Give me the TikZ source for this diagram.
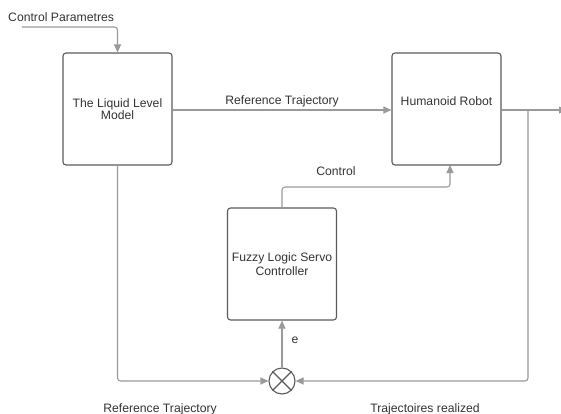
\documentclass[tikz,border=0pt]{standalone}
\usepackage{fontspec}
\setmainfont{Liberation Sans}
\usetikzlibrary{arrows.meta}
\definecolor{linegray}{HTML}{9A9A9A}
\definecolor{boxgray}{HTML}{5A5A5A}
\definecolor{textgray}{HTML}{333333}
\tikzset{
  block/.style={draw=boxgray, line width=1.1pt, rounded corners=3pt, minimum width=109pt, minimum height=112pt, align=center, text=textgray},
  lbl/.style={text=textgray, inner sep=0pt},
  wire/.style={draw=linegray, line width=1.1pt, rounded corners=3pt},
}
\begin{document}
\begin{tikzpicture}[x=1pt, y=-1pt, font=\fontsize{12.2}{13.5}\selectfont, >={Triangle[length=8pt,width=7pt]}]
\useasboundingbox (0,0) rectangle (561,414);

\node[block] (model) at (117.5,109) {The Liquid Level\\[-2pt]Model};
\node[block] (robot) at (446.5,109) {};
\node[lbl] (robottext) at (446.5,101) {Humanoid Robot};
\node[block] (fuzzy) at (282,264) {Fuzzy Logic Servo\\Controller};
\node[draw=boxgray, line width=1.1pt, circle, minimum size=26pt, inner sep=0pt] (sum) at (282,381) {};
\draw[boxgray, line width=1.1pt] (sum.north west) -- (sum.south east);
\draw[boxgray, line width=1.1pt] (sum.north east) -- (sum.south west);

\coordinate (start) at (22,27);
\coordinate (out) at (567,110);
\coordinate (branch) at (528,110);

\node[lbl, anchor=west] (params) at (8,17) {Control Parametres};
\draw[wire, ->, linegray] (start) -| (model.north);

\draw[wire, ->, linegray] (model.east |- 0,110) -- (robot.west |- 0,110);
\node[lbl] (reftop) at (282,101) {Reference Trajectory};

\draw[wire, ->, linegray] (robot.east |- 0,110) -- (out);
\draw[wire, ->, linegray] (branch) |- (sum.east);
\node[lbl] (realized) at (425,409) {Trajectoires realized};

\draw[wire, ->, linegray] (fuzzy.north) |- (366,187) -| (450,165);
\node[lbl] (control) at (336,171) {Control};

\draw[wire, ->, linegray] (sum.north) -- (fuzzy.south);
\node[lbl] (err) at (295,340) {e};

\draw[wire, ->, linegray] (model.south) |- (sum.west);
\node[lbl] (refbottom) at (160,409) {Reference Trajectory};
\end{tikzpicture}
\end{document}
